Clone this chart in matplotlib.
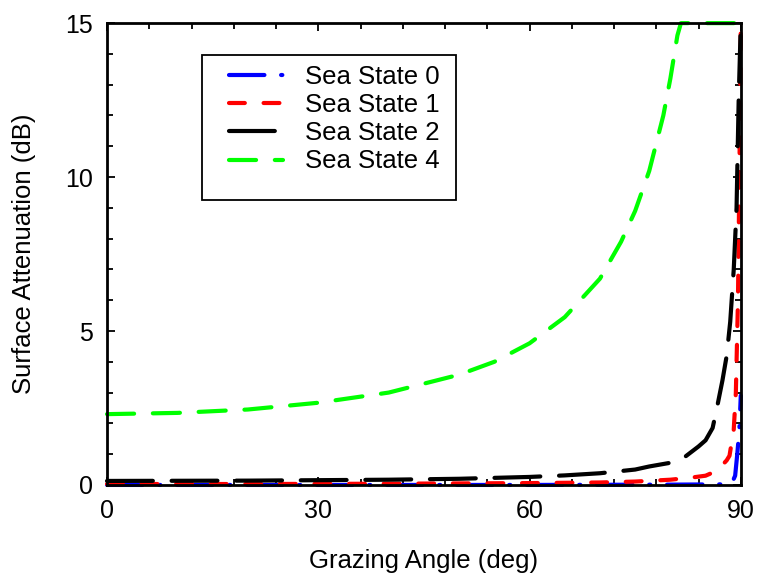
"""
Surface attenuation vs grazing angle for several sea states.
"""

import numpy as np
import matplotlib.pyplot as plt
from matplotlib.ticker import MultipleLocator
from matplotlib.patches import Rectangle

plt.rcParams['font.family'] = ['Liberation Sans', 'DejaVu Sans']

# values (grazing angle in deg, attenuation in dB)
ang_ss0 = [0, 20, 40, 60, 80, 88, 88.7, 89.2, 89.5, 89.8, 90]
att_ss0 = [0.0, 0.0, 0.0, 0.0, 0.01, 0.02, 0.04, 0.3, 1.0, 1.8, 2.9]

ang_ss1 = [0, 20, 40, 60, 70, 75, 80, 83, 85, 86, 87, 88, 88.4, 89,
    89.3, 89.6, 89.8, 90]
att_ss1 = [0.03, 0.03, 0.04, 0.06, 0.08, 0.11, 0.17, 0.24, 0.3, 0.4, 0.55,
    0.8, 0.95, 1.8, 3.0, 6.0, 10.0, 15.0]

ang_ss2 = [0, 20, 40, 50, 60, 65, 70, 75, 77, 80, 82, 84, 85, 86, 86.7,
    87.4, 88, 88.5, 89, 89.4, 89.7, 90]
att_ss2 = [0.13, 0.14, 0.17, 0.2, 0.26, 0.31, 0.38, 0.5, 0.6, 0.72, 0.9,
    1.25, 1.45, 1.85, 2.6, 3.4, 4.2, 5.3, 7.0, 9.0, 12.5, 15.0]

ang_ss4 = [0, 10, 20, 30, 40, 50, 55, 60, 65, 70, 73, 75, 77, 79, 80, 81,
    81.5, 90]
att_ss4 = [2.3, 2.34, 2.45, 2.67, 3.0, 3.58, 4.0, 4.6, 5.45, 6.7, 7.9, 8.9,
    10.2, 12.0, 13.2, 14.6, 15.0, 15.0]

labels = ['Sea State 0', 'Sea State 1', 'Sea State 2', 'Sea State 4']

# PLOTTING
fs = 18.5   # label fontsize
lw = 3      # line width

fig = plt.figure(figsize=(7.59, 5.78), dpi=100)
ax = fig.add_axes([0.141, 0.161, 0.835, 0.799])

ax.plot(ang_ss0, att_ss0, color='#0000ff', lw=lw, dashes=(8.5, 4, 0.3, 4),
    dash_capstyle='round', label=labels[0], clip_on=False)
ax.plot(ang_ss1, att_ss1, color='#ff0000', lw=lw, dashes=(3.8, 4.5),
    dash_capstyle='round', label=labels[1], clip_on=False)
ax.plot(ang_ss2, att_ss2, color='black', lw=lw, dashes=(11, 4.5),
    dash_capstyle='round', label=labels[2], clip_on=False)
ax.plot(ang_ss4, att_ss4, color='#00ff00', lw=lw, dashes=(6.5, 4.5),
    dash_capstyle='round', label=labels[3], clip_on=False)

ax.set_xlim(0, 90)
ax.set_ylim(0, 15)
ax.xaxis.set_major_locator(MultipleLocator(30))
ax.xaxis.set_minor_locator(MultipleLocator(6))
ax.yaxis.set_major_locator(MultipleLocator(5))
ax.yaxis.set_minor_locator(MultipleLocator(1))
ax.tick_params(which='both', direction='in', top=True, right=True,
    labelsize=18, width=1.3, pad=10)
ax.tick_params(which='major', length=6)
ax.tick_params(which='minor', length=4)
for sp in ax.spines.values():
    sp.set_linewidth(2)

ax.set_xlabel('Grazing Angle (deg)', fontsize=fs, labelpad=19)
ax.set_ylabel('Surface Attenuation (dB)', fontsize=fs, labelpad=21)

# legend box with the extra space below the entries
ax.add_patch(Rectangle((0.150, 0.617), 0.400, 0.314, transform=ax.transAxes,
    facecolor='white', edgecolor='black', lw=1.3, zorder=4))
leg = ax.legend(loc='upper left', bbox_to_anchor=(0.175, 0.934),
    fontsize=fs, frameon=False, handlelength=2.1, borderpad=0.45,
    labelspacing=0.16, handletextpad=0.85, borderaxespad=0)
leg.set_zorder(5)

fig.savefig('out.png', dpi=100)
